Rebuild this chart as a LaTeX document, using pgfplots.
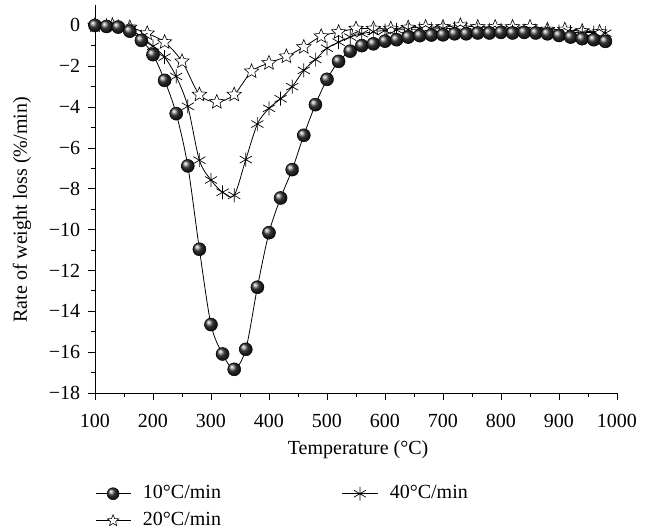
\documentclass[border=0pt]{standalone}
\usepackage{fontspec}
\setmainfont{Liberation Serif}
\usepackage{pgfplots}
\pgfplotsset{compat=1.18}
\usetikzlibrary{plotmarks}

\pgfdeclareradialshading{myball}{\pgfqpoint{-11bp}{11bp}}{%
  color(0bp)=(white); color(5bp)=(black!25); color(14bp)=(black!80);
  color(25bp)=(black!92); color(50bp)=(black)}
\pgfdeclareplotmark{sball}{%
  \pgfpathcircle{\pgfpointorigin}{\pgfplotmarksize}%
  \pgfshadepath{myball}{0}%
  \pgfsetlinewidth{0.5pt}%
  \pgfusepath{stroke}%
}
\pgfdeclareplotmark{wstar}{%
  \pgfpathmoveto{\pgfpointpolar{90}{\pgfplotmarksize}}%
  \pgfpathlineto{\pgfpointpolar{126}{0.45\pgfplotmarksize}}%
  \pgfpathlineto{\pgfpointpolar{162}{\pgfplotmarksize}}%
  \pgfpathlineto{\pgfpointpolar{198}{0.45\pgfplotmarksize}}%
  \pgfpathlineto{\pgfpointpolar{234}{\pgfplotmarksize}}%
  \pgfpathlineto{\pgfpointpolar{270}{0.45\pgfplotmarksize}}%
  \pgfpathlineto{\pgfpointpolar{306}{\pgfplotmarksize}}%
  \pgfpathlineto{\pgfpointpolar{342}{0.45\pgfplotmarksize}}%
  \pgfpathlineto{\pgfpointpolar{18}{\pgfplotmarksize}}%
  \pgfpathlineto{\pgfpointpolar{54}{0.45\pgfplotmarksize}}%
  \pgfpathclose
  \pgfsetfillcolor{white}%
  \pgfusepathqfillstroke
}

\begin{document}
\fontsize{20}{24}\selectfont
\begin{tikzpicture}
\path[use as bounding box] (-95pt,-138pt) rectangle (554pt,393pt);
\begin{axis}[
  at={(0pt,0pt)}, anchor=south west,
  scale only axis, width=522pt, height=388pt,
  xmin=100, xmax=1000, ymin=-18, ymax=1,
  axis x line*=bottom, axis y line*=left,
  axis line style={-, line width=0.8pt},
  tick align=outside,
  major tick length=7pt, minor tick length=4pt,
  every tick/.style={black, line width=0.8pt},
  xtick={100,200,...,1000},
  minor x tick num=1,
  ytick={-18,-16,...,0},
  yticklabels={−18,−16,−14,−12,−10,−8,−6,−4,−2,0},
  minor y tick num=1,
  xticklabel style={yshift=-7pt},
  yticklabel style={xshift=-1pt},
  /pgf/number format/assume math mode=true,
  /pgf/number format/1000 sep={},
  xlabel={Temperature (°C)},
  ylabel={Rate of weight loss (\%/min)},
  xlabel style={at={(axis description cs:0.504,-0.147)}, anchor=center},
  ylabel style={at={(axis description cs:-0.14,0.472)}, anchor=center},
  legend columns=2,
  legend cell align=left,
  legend style={at={(axis description cs:0,-0.232)}, anchor=north west, draw=none, fill=none, inner sep=0pt,
    nodes={inner sep=1pt, text height=14pt, text depth=5pt},
    /tikz/every even column/.append style={column sep=120pt},
    /tikz/every odd column/.append style={column sep=11pt},
    row sep=6pt},
  legend image code/.code={%
    \draw[mark repeat=2,mark phase=2,#1] plot coordinates {(0pt,0pt)(17.5pt,0pt)(35pt,0pt)};},
  every axis plot/.append style={black, line width=0.8pt, smooth, tension=0.5},
]
% 20 C/min
\addplot[mark=wstar, mark size=7.5pt, mark options={line width=0.6pt}, forget plot] coordinates {
(100,0)(130,0)(160,-0.1)(190,-0.39)(220,-0.82)(250,-1.76)(280,-3.39)(310,-3.75)(340,-3.39)
(370,-2.25)(400,-1.84)(430,-1.52)(460,-1.06)(490,-0.53)(520,-0.33)(550,-0.16)(580,-0.16)
(610,-0.16)(640,-0.11)(670,-0.08)(700,-0.08)(730,0)(760,-0.08)(790,-0.08)(820,-0.08)
(850,-0.08)(880,-0.21)(910,-0.21)(940,-0.28)(970,-0.33)};
% 40 C/min
\addplot[mark=asterisk, mark size=7pt, mark options={line width=0.7pt}, forget plot] coordinates {
(100,0)(120,0)(140,-0.05)(160,-0.2)(180,-0.55)(200,-1.02)(220,-1.55)(240,-2.5)(260,-3.96)
(280,-6.6)(300,-7.57)(320,-8.17)(340,-8.32)(360,-6.57)(380,-4.83)(400,-4.06)(420,-3.59)
(440,-3.0)(460,-2.2)(480,-1.67)(500,-1.12)(520,-0.82)(540,-0.57)(560,-0.41)(580,-0.3)
(600,-0.25)(620,-0.22)(640,-0.2)(660,-0.18)(680,-0.18)(700,-0.15)(720,-0.15)(740,-0.15)
(760,-0.2)(780,-0.2)(800,-0.22)(820,-0.3)(840,-0.25)(860,-0.25)(880,-0.28)(900,-0.3)
(920,-0.33)(940,-0.35)(960,-0.35)(980,-0.38)};
% 10 C/min
\addplot[mark=sball, mark size=6.5pt, forget plot] coordinates {
(100,0)(120,-0.05)(140,-0.08)(160,-0.28)(180,-0.73)(200,-1.43)(220,-2.69)(240,-4.32)
(260,-6.88)(280,-10.96)(300,-14.65)(320,-16.09)(340,-16.84)(360,-15.86)(380,-12.82)
(400,-10.15)(420,-8.45)(440,-7.06)(460,-5.38)(480,-3.88)(500,-2.64)(520,-1.76)(540,-1.26)
(560,-0.99)(580,-0.9)(600,-0.77)(620,-0.7)(640,-0.57)(660,-0.5)(680,-0.47)(700,-0.46)
(720,-0.41)(740,-0.41)(760,-0.37)(780,-0.37)(800,-0.34)(820,-0.37)(840,-0.34)(860,-0.37)
(880,-0.41)(900,-0.49)(920,-0.57)(940,-0.65)(960,-0.7)(980,-0.78)};
\addlegendimage{black, line width=0.8pt, mark=sball, mark size=6pt}
\addlegendentry{10°C/min}
\addlegendimage{black, line width=0.8pt, mark=asterisk, mark size=7pt, mark options={line width=0.7pt}}
\addlegendentry{40°C/min}
\addlegendimage{black, line width=0.8pt, mark=wstar, mark size=6pt, mark options={line width=0.6pt}}
\addlegendentry{20°C/min}
\end{axis}
\end{tikzpicture}
\end{document}
